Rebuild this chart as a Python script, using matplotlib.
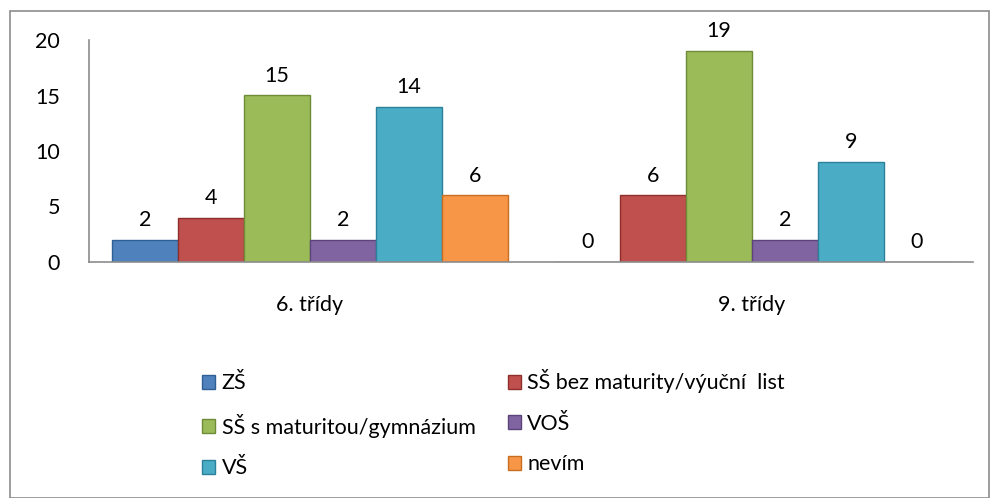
import numpy as np
import matplotlib.pyplot as plt
from matplotlib.patches import Rectangle

plt.rcParams['font.family'] = ['Lato', 'DejaVu Sans']

skupiny = ["6. třídy", "9. třídy"]
kategorie = ["ZŠ", "SŠ bez maturity/výuční  list", "SŠ s maturitou/gymnázium",
             "VOŠ", "VŠ", "nevím"]
hodnoty = {
    "ZŠ": [2, 0],
    "SŠ bez maturity/výuční  list": [4, 6],
    "SŠ s maturitou/gymnázium": [15, 19],
    "VOŠ": [2, 2],
    "VŠ": [14, 9],
    "nevím": [6, 0],
}
barvy = ["#4F81BD", "#C0504D", "#9BBB59", "#8064A2", "#4BACC6", "#F79646"]
okraje = ["#2F5F95", "#8E2F2C", "#6E8C37", "#5A447A", "#2A8199", "#C86E22"]
fs = 15.5

fig = plt.figure(figsize=(9.92, 4.98), dpi=100)
fig.patches.append(Rectangle((10 / 992, 0), 979 / 992, 487 / 498, transform=fig.transFigure,
                             fill=False, edgecolor="#8c8c8c", linewidth=1.2))
ax = fig.add_axes([89 / 992, 236 / 498, 884 / 992, 222 / 498])

x = np.arange(len(skupiny))
w = 0.149
handles = []
for j, k in enumerate(kategorie):
    pos = x + (j - 2.5) * w
    b = ax.bar(pos, hodnoty[k], width=w, color=barvy[j], edgecolor=okraje[j], linewidth=1.0,
               label=k)
    handles.append(b)
    for px, v in zip(pos, hodnoty[k]):
        ax.annotate(str(v), (px, v), xytext=(0, 7), textcoords="offset points",
                    ha="center", va="bottom", fontsize=fs)

ax.set_xlim(-0.5, 1.5)
ax.set_ylim(0, 20)
ax.set_yticks([0, 5, 10, 15, 20])
ax.set_xticks(x)
ax.set_xticklabels(skupiny)
ax.tick_params(axis="both", length=0, labelsize=fs)
ax.tick_params(axis="y", pad=21)
ax.tick_params(axis="x", pad=24)
for s in ["top", "right"]:
    ax.spines[s].set_visible(False)
for s in ["left", "bottom"]:
    ax.spines[s].set_color("#8c8c8c")
    ax.spines[s].set_linewidth(1.2)

poradi = [0, 2, 4, 1, 3, 5]
fig.legend([handles[i] for i in poradi], [kategorie[i] for i in poradi], ncol=2,
           loc="upper left", bbox_to_anchor=(183 / 992, 1 - 350 / 498), frameon=False,
           fontsize=fs, handlelength=0.6, handleheight=0.6, handletextpad=0.3,
           labelspacing=0.95, columnspacing=1.5)

fig.savefig("out.png", dpi=100)
